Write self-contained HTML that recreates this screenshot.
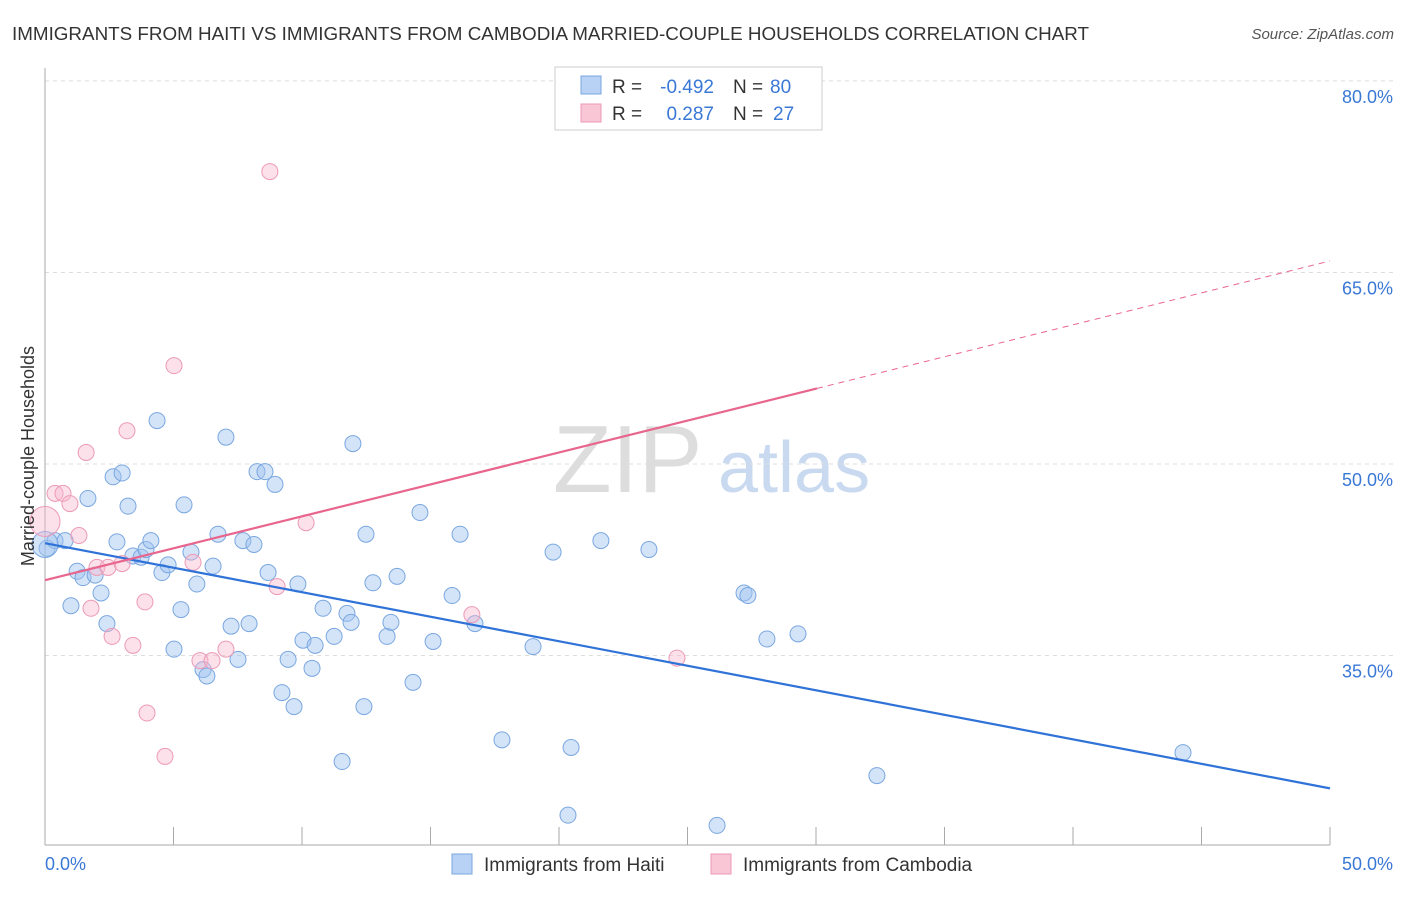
<!DOCTYPE html>
<html><head><meta charset="utf-8"><style>
body{margin:0;background:#fff;font-family:"Liberation Sans",sans-serif;}
svg text{font-family:"Liberation Sans",sans-serif;}
</style></head><body>
<svg id="chart" width="1406" height="892" viewBox="0 0 1406 892">
<text x="12" y="40" font-size="18" fill="#333" textLength="1077" lengthAdjust="spacingAndGlyphs">IMMIGRANTS FROM HAITI VS IMMIGRANTS FROM CAMBODIA MARRIED-COUPLE HOUSEHOLDS CORRELATION CHART</text>
<text x="1394" y="39" font-size="15" fill="#555" font-style="italic" text-anchor="end">Source: ZipAtlas.com</text>
<g>
<text x="553" y="492" font-size="96" fill="#ddd" font-family="Liberation Serif,serif">ZIP</text>
<text x="718" y="492" font-size="72" fill="#c8d9f0">atlas</text>
</g>
<g id="grid"></g><g id="axes"></g><g id="marks"></g>
<text transform="translate(34,456) rotate(-90)" font-size="18" fill="#333" text-anchor="middle">Married-couple Households</text>
<g>
<rect x="555" y="67" width="267" height="63" fill="#fff" stroke="#ccc"/>
<rect x="581" y="76" width="20" height="18" fill="#b8d2f5" stroke="#7aa7e0"/>
<rect x="581" y="104" width="20" height="18" fill="#f9c6d6" stroke="#ec9ab5"/>
<text x="612" y="93" font-size="19" fill="#333">R =</text>
<text x="714" y="93" font-size="19" fill="#3a78d6" text-anchor="end">-0.492</text>
<text x="733" y="93" font-size="19" fill="#333">N =</text>
<text x="770" y="93" font-size="19" fill="#3a78d6">80</text>
<text x="612" y="120" font-size="19" fill="#333">R =</text>
<text x="714" y="120" font-size="19" fill="#3a78d6" text-anchor="end">0.287</text>
<text x="733" y="120" font-size="19" fill="#333">N =</text>
<text x="773" y="120" font-size="19" fill="#3a78d6">27</text>
</g>
<g>
<rect x="452" y="854" width="20" height="20" fill="#b8d2f5" stroke="#7aa7e0"/>
<text x="484" y="871" font-size="19" fill="#333">Immigrants from Haiti</text>
<rect x="711" y="854" width="20" height="20" fill="#f9c6d6" stroke="#ec9ab5"/>
<text x="743" y="871" font-size="19" fill="#333">Immigrants from Cambodia</text>
</g>
</svg>
<script>
const yTicks=[35,50,65,80];
const yTickLabels=["35.0%","50.0%","65.0%","80.0%"];
const xTickLabels=["0.0%","50.0%"];
const haitiX=[0.08,0.39,0.78,1.67,1.01,1.25,1.48,1.95,2.18,2.41,2.65,3.00,3.23,2.80,3.42,3.74,3.93,4.12,4.36,4.55,4.79,5.02,5.29,5.41,5.68,5.91,6.15,6.30,6.54,6.73,7.04,7.24,7.51,7.70,7.94,8.13,8.25,8.56,8.68,8.95,9.22,9.46,9.69,9.84,10.04,10.39,10.51,10.82,11.25,11.56,11.75,11.91,11.98,12.41,12.49,12.76,13.31,13.46,13.70,14.32,14.59,15.10,15.84,16.15,16.73,17.78,18.99,19.77,20.35,20.47,21.63,23.50,26.15,27.20,27.35,28.09,29.30,32.37,44.28,0.0];
const haitiY=[43.4,44.0,44.0,47.3,38.9,41.6,41.1,41.3,39.9,37.5,49.0,49.3,46.7,43.9,42.8,42.7,43.3,44.0,53.4,41.5,42.1,35.5,38.6,46.8,43.1,40.6,33.9,33.4,42.0,44.5,52.1,37.3,34.7,44.0,37.5,43.7,49.4,49.4,41.5,48.4,32.1,34.7,31.0,40.6,36.2,34.0,35.8,38.7,36.5,26.7,38.3,37.6,51.6,31.0,44.5,40.7,36.5,37.6,41.2,32.9,46.2,36.1,39.7,44.5,37.5,28.4,35.7,43.1,22.5,27.8,44.0,43.3,21.7,39.9,39.7,36.3,36.7,25.6,27.4,43.7];
const haitiR=[8,8,8,8,8,8,8,8,8,8,8,8,8,8,8,8,8,8,8,8,8,8,8,8,8,8,8,8,8,8,8,8,8,8,8,8,8,8,8,8,8,8,8,8,8,8,8,8,8,8,8,8,8,8,8,8,8,8,8,8,8,8,8,8,8,8,8,8,8,8,8,8,8,8,8,8,8,8,8,13];
const cambX=[0.0,0.39,0.70,0.97,1.32,1.60,1.79,2.02,2.45,2.61,3.00,3.19,3.42,3.89,3.97,4.67,5.02,5.76,6.03,6.50,7.04,8.75,9.03,10.16,16.61,24.59,26.46];
const cambY=[45.5,47.7,47.7,46.9,44.4,50.9,38.7,41.9,41.9,36.5,42.2,52.6,35.8,39.2,30.5,27.1,57.7,42.3,34.6,34.6,35.5,72.9,40.4,45.4,38.2,34.8,79.7];
const cambR=[15,8,8,8,8,8,8,8,8,8,8,8,8,8,8,8,8,8,8,8,8,8,8,8,8,8,8];
const haitiTrend=[43.8,-0.384];
const cambTrend=[40.9,0.5];
const cambSolidEnd=30.04;

const NS="http://www.w3.org/2000/svg";
const xS=v=>45+v*25.7, yS=v=>464-(v-50)*12.77;
function mk(tag,attrs,parent){const e=document.createElementNS(NS,tag);for(const k in attrs)e.setAttribute(k,attrs[k]);document.getElementById(parent).appendChild(e);return e;}
yTicks.forEach((t,i)=>{
  const g=mk('line',{x1:45,x2:1394,y1:yS(t),y2:yS(t),stroke:'#ddd','stroke-dasharray':'4,4'},'grid');
  
  
  const l=mk('text',{x:1393,y:yS(t)+22,'font-size':18,fill:'#3a78d6','text-anchor':'end'},'axes');
  l.textContent=yTickLabels[i];
  
  
});
const ya=mk('line',{x1:45,x2:45,y1:68,y2:845,stroke:'#aaa'},'axes');


const xa=mk('line',{x1:45,x2:1330,y1:845,y2:845,stroke:'#aaa'},'axes');


for(let i=0;i<=10;i++){
  const t=mk('line',{x1:xS(i*5),x2:xS(i*5),y1:827,y2:845,stroke:'#aaa'},'axes');
  
  
}
[[0,'start',45],[50,'end',1393]].forEach((d,i)=>{
  const l=mk('text',{x:d[2],y:870,'font-size':18,fill:'#3a78d6','text-anchor':d[1]},'axes');
  l.textContent=xTickLabels[i];
  
  
});
function dots(X,Y,R,fill,stroke,name){
  X.forEach((x,i)=>{
    const c=mk('circle',{cx:xS(x),cy:yS(Y[i]),r:R[i],fill:fill,stroke:stroke,'stroke-width':1},'marks');
    
    
  });
}
dots(haitiX,haitiY,haitiR,'rgba(160,195,240,0.45)','#7aa7e0','haiti-point');
dots(cambX,cambY,cambR,'rgba(248,180,205,0.4)','#ec9ab5','cambodia-point');
const hl=mk('line',{x1:xS(0),y1:yS(haitiTrend[0]),x2:xS(50),y2:yS(haitiTrend[0]+haitiTrend[1]*50),stroke:'#2f72d8','stroke-width':2.2},'marks');


const cl=mk('line',{x1:xS(0),y1:yS(cambTrend[0]),x2:xS(cambSolidEnd),y2:yS(cambTrend[0]+cambTrend[1]*cambSolidEnd),stroke:'#e8658e','stroke-width':2.2},'marks');


const cd=mk('line',{x1:xS(cambSolidEnd),y1:yS(cambTrend[0]+cambTrend[1]*cambSolidEnd),x2:xS(50),y2:yS(cambTrend[0]+cambTrend[1]*50),stroke:'#e8658e','stroke-width':1,'stroke-dasharray':'6,5'},'marks');


</script>
</body></html>
